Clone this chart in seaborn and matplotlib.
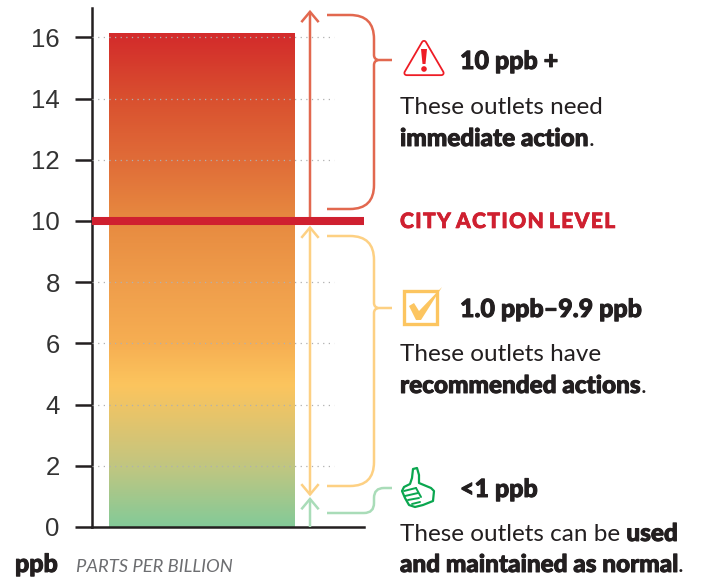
import numpy as np
import pandas as pd
import seaborn as sns
import matplotlib
matplotlib.use("Agg")
import matplotlib.pyplot as plt
import matplotlib.patheffects as pe
from matplotlib.colors import LinearSegmentedColormap
from matplotlib.path import Path
from matplotlib.patches import PathPatch, Polygon, Rectangle, Circle

# ---- data ----
categories = ["Outlets"]
max_ppb = [16.15]
action_level = 10
tick_values = [0, 2, 4, 6, 8, 10, 12, 14, 16]
grid_values = [2, 4, 6, 8, 12, 14, 16]
red_range = [10, 16.9]
yellow_range = [1.0, 9.85]
green_range = [0, 0.98]
gradient_positions = [0, 2, 3.5, 4.6, 6, 8, 10, 12, 14, 16.15]
gradient_colors = ["#84ca98", "#c2c680", "#e4c46c", "#fcc55e", "#f6ae52", "#ef9d4b",
                   "#e78a40", "#e06c38", "#d9502f", "#d32a2b"]

INK = "#231f20"
RED_LINE = "#cf2030"
RED_SOFT = "#e2684f"
YEL_SOFT = "#fdd083"
GRN_SOFT = "#a9dcb8"

sns.set_theme(style="white")
plt.rcParams["font.family"] = ["Lato", "DejaVu Sans"]

W, H = 702, 577
fig = plt.figure(figsize=(W / 100, H / 100), dpi=100)
ax = fig.add_axes([92 / W, (H - 527) / H, 272 / W, 519 / H])

df = pd.DataFrame({"cat": categories, "ppb": max_ppb})
sns.barplot(data=df, x="cat", y="ppb", ax=ax, width=0.8, color="white", saturation=1)
ax.set_xlim(-110 / 232.5, 162 / 232.5)
ax.set_ylim(0, 519 / 30.6)
ax.set_xlabel("")
ax.set_ylabel("")
ax.set_xticks([])
ax.set_yticks(tick_values)
ax.tick_params(axis="y", length=12.2, width=1.8, color=INK, pad=11, left=True)
for lab in ax.get_yticklabels():
    lab.set_fontfamily("Liberation Sans")
    lab.set_fontsize(18.5)
    lab.set_color("#333333")
for s in ["top", "right"]:
    ax.spines[s].set_visible(False)
for s in ["left", "bottom"]:
    ax.spines[s].set_linewidth(1.8)
    ax.spines[s].set_color(INK)

# gradient fill, clipped to the seaborn bar
bar = ax.patches[0]
x0, x1 = bar.get_x(), bar.get_x() + bar.get_width()
top = bar.get_height()
cmap = LinearSegmentedColormap.from_list(
    "lead", [(p / top, c) for p, c in zip(gradient_positions, gradient_colors)])
img = ax.imshow(np.linspace(0, 1, 256)[:, None], origin="lower", cmap=cmap, aspect="auto",
                extent=[x0, x1, 0, top], zorder=2)
img.set_clip_path(bar)
ax.set_xlim(-110 / 232.5, 162 / 232.5)
ax.set_ylim(0, 519 / 30.6)

# dotted guide lines
gx = (334 - 202) / 232.5
for g in grid_values:
    ax.plot([ax.get_xlim()[0], gx], [g, g], color="#b0b0b0", lw=0.9,
            ls=(0, (1, 3.5)), zorder=3, clip_on=False)

# action level line
ax.axhline(action_level, color=RED_LINE, lw=5.8, zorder=5, solid_capstyle="butt")


# range arrows
def arrow(y_from, y_to, color, style="->"):
    ax_x = (310 - 202) / 232.5
    ax.annotate("", xy=(ax_x, y_to), xytext=(ax_x, y_from),
                arrowprops=dict(arrowstyle=f"{style},head_length=0.62,head_width=0.52",
                                color=color, lw=1.8, shrinkA=0, shrinkB=0,
                                joinstyle="miter", capstyle="butt"),
                zorder=4, annotation_clip=False)


arrow(red_range[0], red_range[1], RED_SOFT)
arrow(yellow_range[1], yellow_range[0], YEL_SOFT, "<->")
arrow(green_range[0], green_range[1], GRN_SOFT)

# overlay in pixel coordinates for the annotations
ov = fig.add_axes([0, 0, 1, 1], facecolor="none")
ov.set_xlim(0, W)
ov.set_ylim(H, 0)
ov.axis("off")


def bracket(y_top, y_mid, y_bot, color):
    xa, xr, xt = 327, 374, 392
    r = 24
    verts = [(xa, y_top), (xr - r, y_top), (xr, y_top), (xr, y_top + r),
             (xr, y_mid - 5), (xr, y_mid - 1), (xr + 4, y_mid),
             (xt, y_mid),
             (xr + 4, y_mid), (xr, y_mid + 1), (xr, y_mid + 5),
             (xr, y_bot - r), (xr, y_bot), (xr - r, y_bot), (xa, y_bot)]
    codes = [Path.MOVETO, Path.LINETO, Path.CURVE3, Path.CURVE3,
             Path.LINETO, Path.CURVE3, Path.CURVE3,
             Path.LINETO,
             Path.MOVETO, Path.CURVE3, Path.CURVE3,
             Path.LINETO, Path.CURVE3, Path.CURVE3, Path.LINETO]
    ov.add_patch(PathPatch(Path(verts, codes), fc="none", ec=color, lw=1.8))


bracket(15, 60, 209, RED_SOFT)
bracket(236, 308, 486, YEL_SOFT)
# green S-shaped bracket
gv = [(327, 513), (364, 513), (374, 513), (374, 503), (374, 498), (374, 488), (384, 488), (392, 488)]
gc = [Path.MOVETO, Path.LINETO, Path.CURVE3, Path.CURVE3, Path.LINETO, Path.CURVE3, Path.CURVE3, Path.LINETO]
ov.add_patch(PathPatch(Path(gv, gc), fc="none", ec=GRN_SOFT, lw=1.8))

# warning icon
ALERT = "#ee1c25"
tri = [(424, 43), (406.5, 73), (441.5, 73)]
ov.add_patch(Polygon(tri, closed=True, fc=ALERT, ec=ALERT, lw=4.4, joinstyle="round"))
ov.add_patch(Polygon(tri, closed=True, fc="white", ec="white", lw=1.8, joinstyle="round"))
ov.add_patch(Polygon([(421, 49), (427, 49), (425.5, 64), (422.5, 64)], closed=True, fc=ALERT, ec="none"))
ov.add_patch(Circle((424, 69), 2.8, fc=ALERT, ec="none"))

# check icon
CHECK = "#fcc560"
ov.add_patch(Rectangle((403.5, 290.5), 33.5, 33.5, fc="white", ec=CHECK, lw=2.4))
ov.add_patch(Polygon([(409, 306), (414, 303), (419, 311), (442, 287),
                      (421, 320), (416, 320)], closed=True, fc=CHECK, ec="none"))

# thumb icon
GREEN = "#0aa64f"
thumb = [(413, 469), (417, 468), (419, 475), (419, 483), (431, 488), (434, 491), (433, 501),
         (423, 505), (415, 507), (409, 505), (405, 498), (402, 491), (404, 487), (410, 484), (412, 478)]
ov.add_patch(Polygon(thumb, closed=True, fc="white", ec=GREEN, lw=1.6, joinstyle="round"))
for (xa, ya, xb, yb) in [(404, 491, 416, 488), (405, 496, 418, 493), (408, 500, 419, 498), (412, 504, 420, 502)]:
    ov.plot([xa, xb], [ya, yb], color=GREEN, lw=1.4, solid_capstyle="round")
ov.plot([416, 421], [488, 497], color=GREEN, lw=1.4)

# text
TXT = "#231f20"
renderer = fig.canvas.get_renderer()
HEAVY = [pe.withStroke(linewidth=0.7, foreground=TXT)]


def runs(x, y, parts, size):
    for s, w in parts:
        t = ov.text(x, y, s, fontsize=size, fontweight=w, color=TXT, va="baseline", ha="left")
        if w == 900:
            t.set_path_effects(HEAVY)
        bb = t.get_window_extent(renderer)
        x = ov.transData.inverted().transform((bb.x1, bb.y0))[0]


BODY = 17.5
HEAD = 18
runs(460, 69, [("10 ppb +", 900)], HEAD)
runs(400, 114, [("These outlets need", 400)], BODY)
runs(400, 146, [("immediate action", 900), (".", 400)], BODY)
runs(460, 317, [("1.0 ppb–9.9 ppb", 900)], HEAD)
runs(400, 361, [("These outlets have", 400)], BODY)
runs(400, 393, [("recommended actions", 900), (".", 400)], BODY)
runs(460, 497, [("<1 ppb", 900)], HEAD)
runs(400, 541, [("These outlets can be ", 400), ("used", 900)], BODY)
runs(400, 572, [("and maintained as normal", 900), (".", 400)], BODY)
city = ov.text(400, 228, "\u200a".join("CITY") + " " + "\u200a".join("ACTION") + " " + "\u200a".join("LEVEL"),
               fontsize=15.2, fontweight=900, color=RED_LINE, va="baseline")
city.set_path_effects([pe.withStroke(linewidth=0.5, foreground=RED_LINE)])
ppb = ov.text(15, 572, "ppb", fontsize=18, fontweight=900, color=TXT, va="baseline")
ppb.set_path_effects(HEAVY)
ov.text(76, 572, "PARTS PER BILLION", fontsize=13.2, style="italic", color="#6d6e71", va="baseline")

fig.savefig("out.png", dpi=100, facecolor="white")
